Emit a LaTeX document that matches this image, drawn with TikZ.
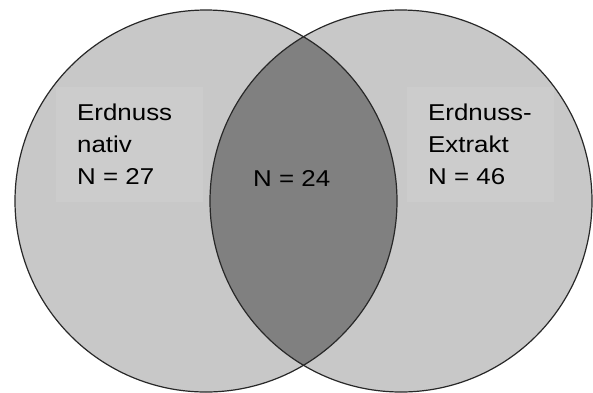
\documentclass[tikz,border=0pt]{standalone}
\usepackage{fontspec}
\setmainfont{Liberation Sans}[FakeStretch=1.13]
\definecolor{vennlight}{RGB}{200,200,200}
\definecolor{venndark}{RGB}{128,128,128}
\definecolor{vennbox}{RGB}{204,204,204}
\definecolor{vennline}{RGB}{40,40,40}
\begin{document}
\begin{tikzpicture}[x=1bp,y=-1bp,
  vennset/.style={circle, draw=vennline, line width=1.2bp, minimum size=382bp, inner sep=0pt, outer sep=0pt},
  labelbox/.style={fill=vennbox, minimum width=147bp, minimum height=115bp, inner sep=0pt, anchor=north west},
  setlabel/.style={font=\fontsize{23}{32}\selectfont, align=left, inner sep=0pt, anchor=base west}]
  \useasboundingbox (0,0) rectangle (593,392);

  % circle fills and the overlap
  \fill[vennlight] (206,201) circle (191) (401,201) circle (191);
  \begin{scope}
    \clip (206,201) circle (191);
    \fill[venndark] (401,201) circle (191);
  \end{scope}

  % faint boxes behind the labels
  \node[labelbox] (nativbox) at (56,87) {};
  \node[labelbox] (extraktbox) at (407,87) {};

  % outlines
  \node[vennset] (nativ) at (206,201) {};
  \node[vennset] (extrakt) at (401,201) {};

  % labels
  \node[setlabel] (nativlabel) at (77,184) {Erdnuss\\nativ\\N = 27};
  \node[setlabel] (extraktlabel) at (428,184) {Erdnuss-\\Extrakt\\N = 46};
  \node[setlabel] (schnitt) at (253,186) {N = 24};
\end{tikzpicture}
\end{document}
